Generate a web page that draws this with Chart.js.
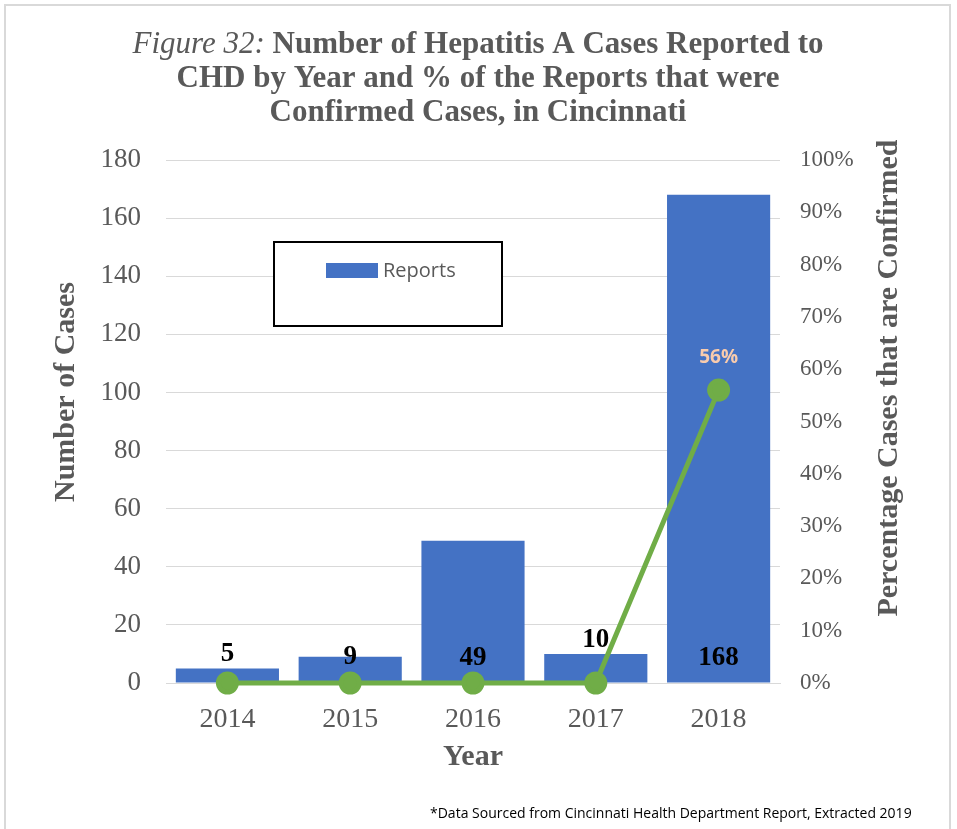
<!DOCTYPE html>
<html>
<head>
<meta charset="utf-8">
<script src="https://cdn.jsdelivr.net/npm/chart.js@4.4.1/dist/chart.umd.min.js"></script>
<style>
  html, body { margin: 0; padding: 0; background: #ffffff; }
  #wrap { width: 957px; height: 829px; position: relative; }
</style>
</head>
<body>
<div id="wrap"><canvas id="hepChart" width="957" height="829"></canvas></div>
<script>
// Hepatitis A reports and share confirmed, Cincinnati
const years = ["2014", "2015", "2016", "2017", "2018"];
const reports = [5, 9, 49, 10, 168];
const pctConfirmed = [0, 0, 0, 0, 56];
const caseTicks = [0, 20, 40, 60, 80, 100, 120, 140, 160, 180];
const pctTicks = [0, 10, 20, 30, 40, 50, 60, 70, 80, 90, 100];

const GREY = "#595959";
const SERIF = "'Liberation Serif', 'DejaVu Serif', serif";

// frame, title, axis titles, footnote and the boxed legend
const decorPlugin = {
  id: "decor",
  beforeDraw(chart) {
    const ctx = chart.ctx;
    ctx.save();
    ctx.fillStyle = "#ffffff";
    ctx.fillRect(0, 0, chart.width, chart.height);
    ctx.strokeStyle = "#d9d9d9";
    ctx.lineWidth = 2;
    ctx.strokeRect(5, 5, 945, 900);
    ctx.restore();
  },
  afterDraw(chart) {
    const ctx = chart.ctx;
    const cx = 478;
    ctx.save();
    ctx.fillStyle = GREY;
    ctx.textBaseline = "middle";

    // first title line: italic lead-in then bold text
    const lead = "Figure 32: ";
    const rest = "Number of Hepatitis A Cases Reported to";
    ctx.font = "italic 31px " + SERIF;
    const w1 = ctx.measureText(lead).width;
    ctx.font = "bold 31px " + SERIF;
    const w2 = ctx.measureText(rest).width;
    let x0 = cx - (w1 + w2) / 2;
    ctx.textAlign = "left";
    ctx.font = "italic 31px " + SERIF;
    ctx.fillText(lead, x0, 45);
    ctx.font = "bold 31px " + SERIF;
    ctx.fillText(rest, x0 + w1, 45);
    ctx.textAlign = "center";
    ctx.fillText("CHD by Year and % of the Reports that were", cx, 79);
    ctx.fillText("Confirmed Cases, in Cincinnati", cx, 113);

    // vertical axis titles, both reading bottom to top
    ctx.font = "bold 30px " + SERIF;
    ctx.save();
    ctx.translate(66, 392);
    ctx.rotate(-Math.PI / 2);
    ctx.fillText("Number of Cases", 0, 0);
    ctx.restore();
    ctx.save();
    ctx.translate(889, 378);
    ctx.rotate(-Math.PI / 2);
    ctx.fillText("Percentage Cases that are Confirmed", 0, 0);
    ctx.restore();

    // footnote
    ctx.fillStyle = "#000000";
    ctx.font = "14px 'Open Sans', sans-serif";
    ctx.textAlign = "left";
    ctx.fillText("*Data Sourced from Cincinnati Health Department Report, Extracted 2019", 430, 814);

    // legend box inside the plot
    ctx.fillStyle = "#ffffff";
    ctx.fillRect(274, 242, 228, 84);
    ctx.strokeStyle = "#000000";
    ctx.lineWidth = 2;
    ctx.strokeRect(274, 242, 228, 84);
    ctx.fillStyle = chart.data.datasets[1].backgroundColor;
    ctx.fillRect(326, 263, 52, 15);
    ctx.fillStyle = GREY;
    ctx.font = "20px 'Open Sans', sans-serif";
    ctx.fillText(chart.data.datasets[1].label, 383, 271);
    ctx.restore();
  }
};

// value labels on the bars and the line
const valueLabels = {
  id: "valueLabels",
  afterDatasetsDraw(chart) {
    const ctx = chart.ctx;
    const y = chart.scales.y;
    ctx.save();
    ctx.textAlign = "center";
    ctx.textBaseline = "middle";
    ctx.fillStyle = "#000000";
    ctx.font = "bold 27px " + SERIF;
    const barMeta = chart.getDatasetMeta(1);
    barMeta.data.forEach((bar, i) => {
      const v = reports[i];
      let ly = y.getPixelForValue(8.5);
      if (v <= 10) ly = Math.min(ly, bar.y - 14);
      if (v === 9) ly = y.getPixelForValue(9);
      ctx.fillText(String(v), bar.x, ly);
    });
    const lineMeta = chart.getDatasetMeta(0);
    ctx.fillStyle = "#F8CBAD";
    ctx.font = "bold 19px 'Open Sans', sans-serif";
    lineMeta.data.forEach((pt, i) => {
      if (pctConfirmed[i] > 0) ctx.fillText(pctConfirmed[i] + "%", pt.x, pt.y - 33);
    });
    ctx.restore();
  }
};

new Chart(document.getElementById("hepChart"), {
  data: {
    labels: years,
    datasets: [
      {
        type: "line",
        label: "% Confirmed",
        data: pctConfirmed,
        yAxisID: "y2",
        borderColor: "#70AD47",
        backgroundColor: "#70AD47",
        borderWidth: 5,
        pointRadius: 9,
        pointHoverRadius: 9,
        tension: 0,
        clip: false,
        order: 0
      },
      {
        type: "bar",
        label: "Reports",
        data: reports,
        yAxisID: "y",
        backgroundColor: "#4472C4",
        barPercentage: 0.84,
        categoryPercentage: 1.0,
        order: 1
      }
    ]
  },
  options: {
    responsive: false,
    animation: false,
    layout: { padding: { left: 40, right: 50, top: 160, bottom: 50 } },
    plugins: {
      legend: { display: false },
      tooltip: { enabled: false },
      title: { display: false }
    },
    scales: {
      x: {
        grid: { display: false },
        border: { color: "#d9d9d9", width: 1 },
        ticks: { color: GREY, font: { family: SERIF, size: 28 }, padding: 12 },
        title: { display: true, text: "Year", color: GREY, font: { family: SERIF, size: 30, weight: "bold" }, padding: { top: 4, bottom: 4 } },
        afterFit(scale) { scale.height = 96; }
      },
      y: {
        position: "left",
        min: 0,
        max: 180,
        afterBuildTicks(scale) { scale.ticks = caseTicks.map(v => ({ value: v })); },
        grid: { color: "#d9d9d9", lineWidth: 1, drawTicks: false },
        border: { display: false },
        ticks: { color: GREY, font: { family: SERIF, size: 27 }, padding: 25 },
        afterFit(scale) { scale.width = 126; }
      },
      y2: {
        position: "right",
        min: 0,
        max: 100,
        afterBuildTicks(scale) { scale.ticks = pctTicks.map(v => ({ value: v })); },
        grid: { display: false, drawTicks: false },
        border: { display: false },
        ticks: { color: GREY, font: { family: SERIF, size: 23 }, padding: 20, callback: v => v + "%" },
        afterFit(scale) { scale.width = 127; }
      }
    }
  },
  plugins: [decorPlugin, valueLabels]
});
</script>
</body>
</html>
